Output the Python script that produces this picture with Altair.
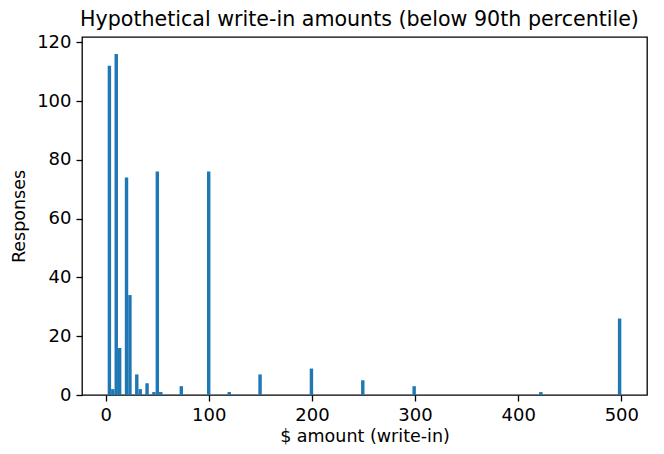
import altair as alt
import pandas as pd

# Histogram bins (left edge of each non-empty bin, $) and counts
bin_start = [2.0, 5.32, 8.64, 11.96, 18.6, 21.92, 28.56, 31.88, 38.52, 45.16,
             48.48, 51.8, 71.72, 98.28, 118.2, 148.08, 197.88, 247.68, 297.48,
             420.32, 496.68]
counts = [112, 2, 116, 16, 74, 34, 7, 2, 4, 1,
          76, 1, 3, 76, 1, 7, 9, 5, 3,
          1, 26]
bin_width = 3.32

df = pd.DataFrame({"start": bin_start, "count": counts})

FONT = "DejaVu Sans"

chart = (
    alt.Chart(df)
    .transform_calculate(end=f"datum.start + {bin_width}")
    .mark_rect(color="#1f77b4")
    .encode(
        x=alt.X("start:Q",
                scale=alt.Scale(domain=[-22.9, 524.9], nice=False, zero=False),
                axis=alt.Axis(values=[0, 100, 200, 300, 400, 500], title="$ amount (write-in)")),
        x2="end:Q",
        y=alt.Y("count:Q",
                scale=alt.Scale(domain=[0, 121.8], nice=False),
                axis=alt.Axis(values=[0, 20, 40, 60, 80, 100, 120], title="Responses")),
        y2=alt.datum(0),
    )
    .properties(
        width=565,
        height=358,
        title=alt.TitleParams("Hypothetical write-in amounts (below 90th percentile)",
                              font=FONT, fontSize=20.6, fontWeight="normal", color="black",
                              offset=3, dx=-5),
        autosize=alt.AutoSizeParams(type="none"),
        padding={"left": 74, "top": 29, "right": 9, "bottom": 51},
    )
    .configure_view(stroke="black", strokeWidth=1.3)
    .configure_axis(
        grid=False,
        domain=False,
        ticks=True,
        tickColor="black",
        tickSize=6,
        tickWidth=1.3,
        labelFont=FONT,
        labelFontSize=18,
        labelColor="black",
        labelPadding=5,
        titleFont=FONT,
        titleFontSize=17.5,
        titleFontWeight="normal",
        titleColor="black",
    )
    .configure_axisX(titlePadding=3)
    .configure_axisY(titlePadding=8)
)

chart.save("out.html", embed_options={"renderer": "svg", "actions": False})
